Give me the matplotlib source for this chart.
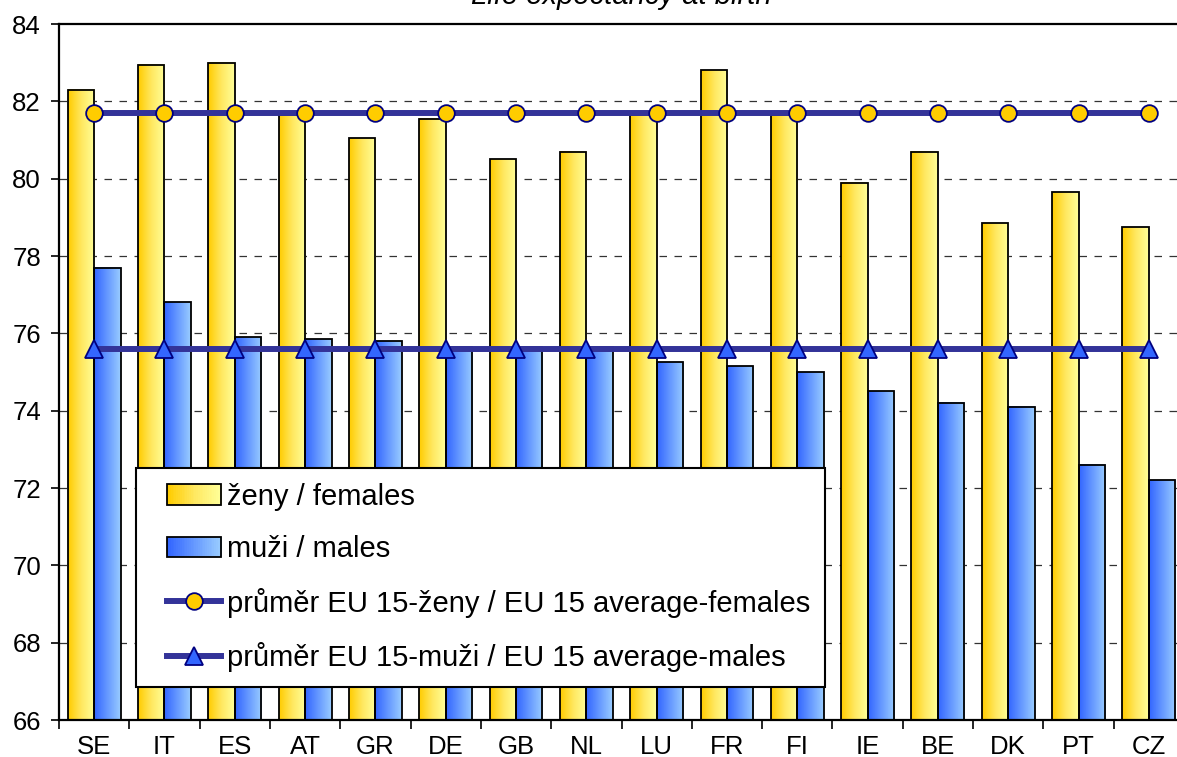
import numpy as np
import matplotlib
matplotlib.use("Agg")
import matplotlib.pyplot as plt
from matplotlib.colors import LinearSegmentedColormap
from matplotlib.legend_handler import HandlerBase, HandlerLine2D
from matplotlib.patches import Rectangle
from matplotlib.lines import Line2D

# --- data -------------------------------------------------------------
countries = ["SE", "IT", "ES", "AT", "GR", "DE", "GB", "NL",
             "LU", "FR", "FI", "IE", "BE", "DK", "PT", "CZ"]
females = [82.3, 82.95, 83.0, 81.65, 81.05, 81.55, 80.5, 80.7,
           81.65, 82.8, 81.65, 79.9, 80.7, 78.85, 79.65, 78.75]
males = [77.7, 76.8, 75.9, 75.85, 75.8, 75.65, 75.65, 75.65,
         75.25, 75.15, 75.0, 74.5, 74.2, 74.1, 72.6, 72.2]
eu15_females = 81.7
eu15_males = 75.6

title = "Life expectancy at birth"
lbl_f = "ženy / females"
lbl_m = "muži / males"
lbl_avg_f = "průměr EU 15-ženy / EU 15 average-females"
lbl_avg_m = "průměr EU 15-muži / EU 15 average-males"

# --- style ------------------------------------------------------------
plt.rcParams["font.family"] = ["Liberation Sans", "DejaVu Sans"]
TICK_FONT = 18.5
LEG_FONT = 21
NAVY = "#333399"
EDGE_NAVY = "#000080"
cmap_f = LinearSegmentedColormap.from_list("gold", ["#FFCC00", "#FFE860", "#FFFF99"])
cmap_m = LinearSegmentedColormap.from_list("blue", ["#3366FF", "#6699FF", "#99CCFF"])

W, H = 1177, 757
fig = plt.figure(figsize=(W / 100, H / 100), dpi=100)
ax = fig.add_axes([59 / W, 37 / H, 1125 / W, 696 / H])

x = np.arange(len(countries))
bw = 0.376

grad = np.linspace(0, 1, 64).reshape(1, -1)


def gradient_bars(xpos, vals, cmap):
    bars = ax.bar(xpos, vals, width=bw, align="edge", facecolor="none",
                  edgecolor="black", linewidth=1.3, zorder=3)
    for p in bars.patches:
        x0, y0 = p.get_x(), p.get_y()
        w, h = p.get_width(), p.get_height()
        im = ax.imshow(grad, extent=[x0, x0 + w, y0, y0 + h], aspect="auto",
                       cmap=cmap, interpolation="bilinear", zorder=2)
        im.set_clip_path(p)
        im.set_clip_box(ax.bbox)
    return bars


# female bars sit left of the category centre, male bars right of it
gradient_bars(x - bw, females, cmap_f)
gradient_bars(x, males, cmap_m)

ax.plot(x, [eu15_females] * len(x), color=NAVY, lw=4.3, marker="o",
        ms=12, mfc="#FFCC00", mec=EDGE_NAVY, mew=1.3, zorder=5)
ax.plot(x, [eu15_males] * len(x), color=NAVY, lw=4.3, marker="^",
        ms=13, mfc="#3366FF", mec=EDGE_NAVY, mew=1.3, zorder=5)

# --- axes -------------------------------------------------------------
ax.set_xlim(-0.5, len(x) - 0.5)
ax.set_ylim(66, 84)
ax.set_yticks(np.arange(66, 85, 2))
ax.tick_params(axis="y", direction="out", length=6, width=1.2,
               pad=7, labelsize=TICK_FONT)

ax.set_xticks(np.arange(-0.5, len(x), 1.0))
ax.set_xticklabels([])
ax.set_xticks(x, minor=True)
ax.set_xticklabels(countries, minor=True)
ax.tick_params(axis="x", which="major", direction="out", length=6.5,
               width=1.2)
ax.tick_params(axis="x", which="minor", length=0, pad=11, labelsize=TICK_FONT)

for gy in np.arange(68, 84, 2):
    ax.axhline(gy, color="#333333", lw=0.9, dashes=(6, 6), zorder=1)

for side in ("left", "bottom", "top"):
    ax.spines[side].set_linewidth(1.6)
    ax.spines[side].set_color("black")
ax.spines["right"].set_visible(False)

fig.text((59 + 1125 / 2) / W, 1 - 3.5 / H, title, ha="center", va="baseline",
         style="italic", fontsize=21)


# --- legend -----------------------------------------------------------
SHIFT = 12  # extra left inset of the legend keys, in pixels


class GradientHandler(HandlerBase):
    def __init__(self, cmap):
        super().__init__()
        self.cmap = cmap

    def create_artists(self, legend, orig_handle, xdescent, ydescent,
                       width, height, fontsize, trans):
        xdescent -= SHIFT
        width -= SHIFT
        n = 30
        arts = []
        for k in range(n):
            r = Rectangle((-xdescent + width * k / n, -ydescent),
                          width / n * 1.05, height,
                          facecolor=self.cmap(k / (n - 1)), edgecolor="none",
                          transform=trans)
            arts.append(r)
        arts.append(Rectangle((-xdescent, -ydescent), width, height,
                              facecolor="none", edgecolor="black",
                              linewidth=1.3, transform=trans))
        return arts


class ShiftedLineHandler(HandlerLine2D):
    def create_artists(self, legend, orig_handle, xdescent, ydescent,
                       width, height, fontsize, trans):
        return super().create_artists(legend, orig_handle, xdescent - SHIFT,
                                      ydescent, width - SHIFT, height,
                                      fontsize, trans)


h_f = Rectangle((0, 0), 1, 1)
h_m = Rectangle((0, 0), 1, 1)
h_af = Line2D([], [], color=NAVY, lw=4.3, marker="o", ms=12,
              mfc="#FFCC00", mec=EDGE_NAVY, mew=1.3)
h_am = Line2D([], [], color=NAVY, lw=4.3, marker="^", ms=13,
              mfc="#3366FF", mec=EDGE_NAVY, mew=1.3)

leg = ax.legend([h_f, h_m, h_af, h_am], [lbl_f, lbl_m, lbl_avg_f, lbl_avg_m],
                handler_map={h_f: GradientHandler(cmap_f),
                             h_m: GradientHandler(cmap_m),
                             h_af: ShiftedLineHandler(),
                             h_am: ShiftedLineHandler()},
                loc="upper left",
                bbox_to_anchor=((136 - 59) / 1125, (720 - 468) / 696),
                borderaxespad=0, fontsize=LEG_FONT, frameon=True,
                fancybox=False, framealpha=1, edgecolor="black",
                handlelength=2.43, handleheight=0.7, handletextpad=0.2,
                labelspacing=0.84, borderpad=0.5)
leg.get_frame().set_linewidth(1.5)
leg.set_zorder(10)

fig.savefig("out.png", dpi=100)
